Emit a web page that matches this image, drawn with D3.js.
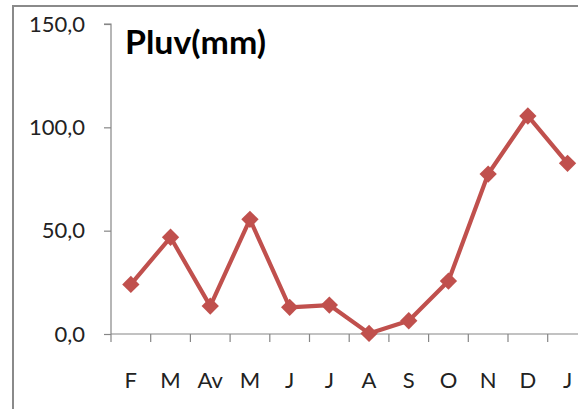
<!DOCTYPE html>
<html>
<head>
<meta charset="utf-8">
<script src="https://cdn.jsdelivr.net/npm/d3@7"></script>
<style>
  html, body { margin: 0; padding: 0; background: #fff; }
  svg { display: block; }
</style>
</head>
<body>
<svg id="chart" width="578" height="409"></svg>
<script>
// Monthly rainfall (mm)
const months = ["F", "M", "Av", "M", "J", "J", "A", "S", "O", "N", "D", "J"];
const rainfall = [24.0, 46.8, 13.5, 55.5, 12.9, 14.0, 0.3, 6.4, 25.6, 77.4, 105.5, 82.6];
const yTicks = [0, 50, 100, 150];
const title = "Pluv(mm)";

const svg = d3.select("#chart");
const W = 578, H = 409;

const plot = { left: 111, top: 24, bottom: 334, step: 39.7 };
const axisColor = "#868686";
const lineColor = "#C0504D";
const font = "Lato, 'Open Sans', sans-serif";

// Chart area frame
svg.append("path")
  .attr("d", `M13,${H} L13,6 L${W},6`)
  .attr("fill", "none")
  .attr("stroke", "#8a8a8a")
  .attr("stroke-width", 2);

const idx = d3.range(months.length);
const x = d3.scaleBand()
  .domain(idx)
  .range([plot.left, plot.left + plot.step * months.length])
  .paddingInner(0).paddingOuter(0);

const y = d3.scaleLinear()
  .domain([0, 150])
  .range([plot.bottom, plot.top]);

// Y axis
const yAxis = svg.append("g")
  .attr("transform", `translate(${plot.left},0)`)
  .call(d3.axisLeft(y)
    .tickValues(yTicks)
    .tickSize(7)
    .tickPadding(19)
    .tickFormat(d => d3.format(".1f")(d).replace(".", ",")));
yAxis.select(".domain").attr("stroke", axisColor).attr("stroke-width", 1.2)
  .attr("d", `M-7,${plot.top}H0V${plot.bottom}`);
yAxis.selectAll(".tick line").attr("stroke", axisColor).attr("stroke-width", 1.2);
yAxis.selectAll(".tick text")
  .attr("font-family", font)
  .attr("font-size", 22)
  .attr("fill", "#222");

// X axis with ticks between categories
const xAxisG = svg.append("g")
  .attr("transform", `translate(0,${plot.bottom})`);
xAxisG.append("line")
  .attr("x1", plot.left).attr("x2", plot.left + plot.step * months.length)
  .attr("stroke", axisColor).attr("stroke-width", 1.2);
xAxisG.selectAll("line.tick")
  .data(d3.range(months.length + 1))
  .join("line")
  .attr("class", "tick")
  .attr("x1", i => i < months.length ? x(i) : x(months.length - 1) + x.bandwidth())
  .attr("x2", i => i < months.length ? x(i) : x(months.length - 1) + x.bandwidth())
  .attr("y1", 0).attr("y2", 8)
  .attr("stroke", axisColor).attr("stroke-width", 1.2);
xAxisG.selectAll("text")
  .data(idx)
  .join("text")
  .attr("x", i => x(i) + x.bandwidth() / 2)
  .attr("y", 54)
  .attr("text-anchor", "middle")
  .attr("font-family", font)
  .attr("font-size", 22)
  .attr("fill", "#222")
  .text(i => months[i]);

// Rainfall line
const cx = i => x(i) + x.bandwidth() / 2;
svg.append("path")
  .datum(rainfall)
  .attr("fill", "none")
  .attr("stroke", lineColor)
  .attr("stroke-width", 4.2)
  .attr("stroke-linejoin", "round")
  .attr("d", d3.line().x((d, i) => cx(i)).y(d => y(d)));

// Diamond markers
svg.append("g").selectAll("path")
  .data(rainfall)
  .join("path")
  .attr("d", d3.symbol().type(d3.symbolSquare).size(150))
  .attr("transform", (d, i) => `translate(${cx(i)},${y(d)}) rotate(45)`)
  .attr("fill", lineColor);

// Title
svg.append("text")
  .attr("x", 125)
  .attr("y", 54)
  .attr("font-family", font)
  .attr("font-weight", "bold")
  .attr("font-size", 32)
  .attr("textLength", 141)
  .attr("lengthAdjust", "spacingAndGlyphs")
  .attr("fill", "#000")
  .text(title);
</script>
</body>
</html>
